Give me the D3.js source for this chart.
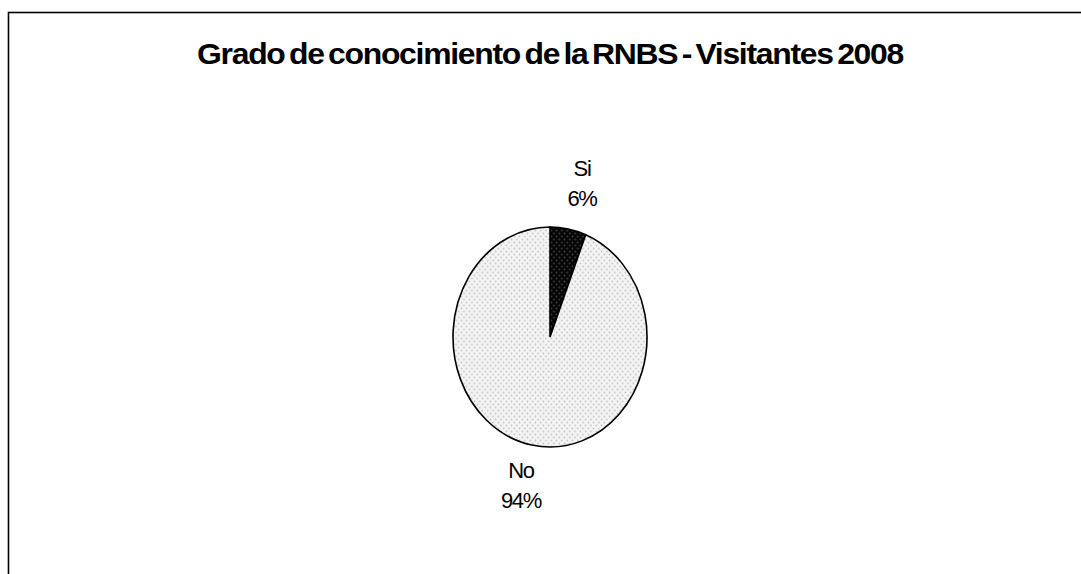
<!DOCTYPE html>
<html lang="es">
<head>
<meta charset="utf-8">
<title>Grado de conocimiento de la RNBS</title>
<script src="https://d3js.org/d3.v7.min.js"></script>
<style>
  body { margin: 0; background: #fff; }
  svg text { font-family: "Liberation Sans", Arial, sans-serif; fill: #000; }
</style>
</head>
<body>
<svg id="chart" width="1081" height="574"></svg>
<script>
// data
var categories = ["Si", "No"];
var values = [6, 94];
var pctLabels = ["6%", "94%"];
var title = "Grado de conocimiento de la RNBS - Visitantes 2008";

var svg = d3.select("#chart");

// frame
svg.append("rect")
  .attr("x", 8.5).attr("y", 12.5)
  .attr("width", 1200).attr("height", 700)
  .attr("fill", "#fff").attr("stroke", "#000").attr("stroke-width", 1.6);

// patterns
var defs = svg.append("defs");
var pDark = defs.append("pattern").attr("id", "pDark")
  .attr("patternUnits", "userSpaceOnUse").attr("width", 6).attr("height", 6);
pDark.append("rect").attr("width", 6).attr("height", 6).attr("fill", "#050505");
pDark.append("circle").attr("cx", 1.5).attr("cy", 1.5).attr("r", 1).attr("fill", "#444");
pDark.append("circle").attr("cx", 4.5).attr("cy", 4.5).attr("r", 1).attr("fill", "#444");

var pLight = defs.append("pattern").attr("id", "pLight")
  .attr("patternUnits", "userSpaceOnUse").attr("width", 6).attr("height", 6);
pLight.append("rect").attr("width", 6).attr("height", 6).attr("fill", "#f4f4f4");
pLight.append("circle").attr("cx", 1.5).attr("cy", 1.5).attr("r", 0.9).attr("fill", "#c0c0c0");
pLight.append("circle").attr("cx", 4.5).attr("cy", 4.5).attr("r", 0.9).attr("fill", "#c0c0c0");

var fills = d3.scaleOrdinal().domain(categories).range(["url(#pDark)", "url(#pLight)"]);

// title - tight spacing, glyphs stretched to the original width
svg.append("text")
  .attr("x", 550).attr("y", 64)
  .attr("text-anchor", "middle")
  .attr("font-size", 30).attr("font-weight", "bold")
  .attr("letter-spacing", -1.2)
  .attr("word-spacing", -3)
  .attr("textLength", 706)
  .attr("lengthAdjust", "spacingAndGlyphs")
  .text(title);

// pie (slightly taller than wide, as in the original)
var cx = 550, cy = 337, rx = 97, ry = 110;
var pie = d3.pie().sort(null).value(function(d) { return d; });
var arcs = pie(values);
var arc = d3.arc().innerRadius(0).outerRadius(ry);

var g = svg.append("g")
  .attr("transform", "translate(" + cx + "," + cy + ") scale(" + (rx / ry) + ",1)");

g.selectAll("path.slice")
  .data(arcs)
  .enter().append("path")
  .attr("class", "slice")
  .attr("d", arc)
  .attr("fill", function(d, i) { return fills(categories[i]); })
  .attr("stroke", "#000")
  .attr("stroke-width", 1.6)
  .attr("vector-effect", "non-scaling-stroke");

// labels
var labelPos = [[582, 176], [521, 478]];
labelPos.forEach(function(p, i) {
  var t = svg.append("text")
    .attr("text-anchor", "middle")
    .attr("font-size", 22)
    .attr("letter-spacing", -1.3);
  t.append("tspan").attr("x", p[0]).attr("y", p[1]).text(categories[i]);
  t.append("tspan").attr("x", p[0]).attr("y", p[1] + 30).text(pctLabels[i]);
});
</script>
</body>
</html>
